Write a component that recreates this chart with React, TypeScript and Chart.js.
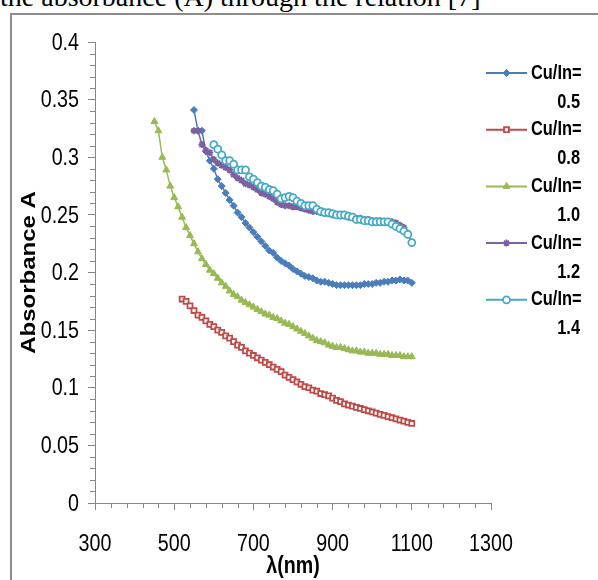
import React, { useEffect, useRef } from "react";
import { Chart, registerables } from "chart.js";
import { drawPoint } from "chart.js/helpers";

Chart.register(...registerables);

// ---------------- DATA ----------------
const wavelengths = [
  450, 460, 470, 480, 490, 500, 510, 520, 530, 540,
  550, 560, 570, 580, 590, 600, 610, 620, 630, 640,
  650, 660, 670, 680, 690, 700, 710, 720, 730, 740,
  750, 760, 770, 780, 790, 800, 810, 820, 830, 840,
  850, 860, 870, 880, 890, 900, 910, 920, 930, 940,
  950, 960, 970, 980, 990, 1000, 1010, 1020, 1030, 1040,
  1050, 1060, 1070, 1080, 1090, 1100,
];

const seriesNames = ["0.5", "0.8", "1.0", "1.2", "1.4"];

const absCu05 = [
  null, null, null, null, null, null, null, null, null, null,
  0.341, 0.323, 0.323, 0.305, 0.297, 0.290, 0.281, 0.275, 0.269, 0.263,
  0.258, 0.252, 0.248, 0.243, 0.239, 0.235, 0.231, 0.227, 0.223, 0.219,
  0.217, 0.213, 0.210, 0.208, 0.206, 0.203, 0.201, 0.199, 0.197, 0.196,
  0.195, 0.193, 0.192, 0.192, 0.191, 0.190, 0.189, 0.189, 0.189, 0.189,
  0.189, 0.189, 0.189, 0.190, 0.190, 0.190, 0.191, 0.191, 0.192, 0.192,
  0.193, 0.193, 0.194, 0.193, 0.193, 0.191,
];

const absCu08 = [
  null, null, null, null, null, null, null, 0.177, 0.175, 0.171,
  0.167, 0.163, 0.161, 0.158, 0.155, 0.153, 0.150, 0.148, 0.145, 0.143,
  0.140, 0.137, 0.135, 0.132, 0.130, 0.128, 0.126, 0.124, 0.122, 0.120,
  0.118, 0.116, 0.114, 0.111, 0.109, 0.107, 0.105, 0.103, 0.101, 0.100,
  0.098, 0.097, 0.095, 0.094, 0.093, 0.091, 0.089, 0.088, 0.086, 0.085,
  0.084, 0.083, 0.082, 0.081, 0.080, 0.079, 0.078, 0.077, 0.076, 0.075,
  0.074, 0.073, 0.072, 0.071, 0.070, 0.069,
];

const absCu10 = [
  0.331, 0.323, 0.300, 0.289, 0.275, 0.265, 0.257, 0.248, 0.239, 0.232,
  0.225, 0.218, 0.212, 0.207, 0.202, 0.199, 0.195, 0.191, 0.188, 0.184,
  0.181, 0.179, 0.176, 0.174, 0.172, 0.170, 0.168, 0.166, 0.164, 0.163,
  0.161, 0.160, 0.158, 0.156, 0.155, 0.153, 0.151, 0.149, 0.147, 0.145,
  0.143, 0.141, 0.140, 0.139, 0.137, 0.136, 0.135, 0.135, 0.134, 0.133,
  0.132, 0.132, 0.131, 0.131, 0.130, 0.130, 0.130, 0.129, 0.129, 0.129,
  0.128, 0.128, 0.128, 0.127, 0.127, 0.127,
];

const absCu12 = [
  null, null, null, null, null, null, null, null, null, null,
  0.323, 0.323, 0.311, 0.306, 0.304, 0.298, 0.295, 0.293, 0.291, 0.289,
  0.285, 0.282, 0.280, 0.277, 0.276, 0.274, 0.272, 0.269, 0.268, 0.266,
  0.264, 0.261, 0.259, 0.258, 0.258, 0.257, 0.257, 0.256, 0.255, 0.254,
  0.253, 0.253, 0.252, 0.252, 0.251, 0.250, 0.250, 0.249, 0.249, 0.248,
  0.248, 0.247, 0.247, 0.246, 0.246, 0.245, 0.245, 0.245, 0.244, 0.244,
  0.244, 0.243, 0.241, 0.239, 0.234, 0.226,
];

const absCu14 = [
  null, null, null, null, null, null, null, null, null, null,
  null, null, null, null, null, 0.311, 0.307, 0.302, 0.297, 0.297,
  0.294, 0.289, 0.289, 0.289, 0.283, 0.281, 0.278, 0.275, 0.274, 0.272,
  0.271, 0.268, 0.264, 0.265, 0.266, 0.265, 0.262, 0.260, 0.258, 0.258,
  0.258, 0.255, 0.253, 0.252, 0.252, 0.251, 0.250, 0.250, 0.250, 0.249,
  0.248, 0.246, 0.246, 0.245, 0.245, 0.244, 0.244, 0.244, 0.244, 0.244,
  0.242, 0.240, 0.238, 0.236, 0.233, 0.226,
];

const seriesValues = [absCu05, absCu08, absCu10, absCu12, absCu14];

const xTitle = "λ(nm)";
const yTitle = "Absorbance A";
const legendPrefix = "Cu/In=";
const xTickMin = 300;
const xTickMax = 1300;
const xTickStep = 200;
const yTickMin = 0;
const yTickMax = 0.4;
const yTickStep = 0.05;

// ---------------- STYLE ----------------
const seriesColors = ["#4A7EBB", "#BE4B48", "#98B954", "#7D60A0", "#46AAC5"];
const seriesPointStyles = ["rectRot", "rect", "triangle", "star", "circle"];
const seriesFilled = [true, false, true, false, false];
const seriesRadius = [3.5, 3.5, 4, 3.5, 3.5];
const AXIS_COLOR = "#868686";
const SANS = '"Liberation Sans", Arial, sans-serif';
const SQUEEZE = 0.82;

const fmtY = (v: number) => String(+Number(v).toFixed(2));

function drawText(
  ctx: CanvasRenderingContext2D,
  text: string,
  x: number,
  y: number,
  font: string,
  align: CanvasTextAlign,
  rotate = false
) {
  ctx.save();
  ctx.translate(x, y);
  if (rotate) {
    ctx.rotate(-Math.PI / 2);
    ctx.scale(1, SQUEEZE);
  } else {
    ctx.scale(SQUEEZE, 1);
  }
  ctx.font = font;
  ctx.fillStyle = "#000";
  ctx.textAlign = align;
  ctx.textBaseline = "middle";
  ctx.fillText(text, 0, 0);
  ctx.restore();
}

const decorPlugin = {
  id: "decor",
  afterDraw(chart: any) {
    const ctx = chart.ctx as CanvasRenderingContext2D;
    const xs = chart.scales.x;
    const ys = chart.scales.y;
    ctx.save();
    // minor ticks
    ctx.strokeStyle = AXIS_COLOR;
    ctx.lineWidth = 1;
    ctx.beginPath();
    for (let v = xTickMin; v <= xTickMax; v += 40) {
      if ((v - xTickMin) % xTickStep === 0) continue;
      const p = Math.round(xs.getPixelForValue(v)) + 0.5;
      ctx.moveTo(p, ys.bottom);
      ctx.lineTo(p, ys.bottom + 5);
    }
    for (let k = 0; k <= 40; k++) {
      if (k % 5 === 0) continue;
      const p = Math.round(ys.getPixelForValue(k / 100)) + 0.5;
      ctx.moveTo(xs.left, p);
      ctx.lineTo(xs.left - 5, p);
    }
    ctx.stroke();

    // tick labels
    const tickFont = "24px " + SANS;
    xs.ticks.forEach((t: any) => {
      drawText(ctx, String(t.value), xs.getPixelForValue(t.value), ys.bottom + 41, tickFont, "center");
    });
    ys.ticks.forEach((t: any) => {
      drawText(ctx, fmtY(t.value), 79 / SQUEEZE * SQUEEZE, ys.getPixelForValue(t.value) + 1, tickFont, "right");
    });

    // axis titles
    drawText(ctx, xTitle, (xs.left + xs.right) / 2, 566, "bold 24px " + SANS, "center");
    drawText(ctx, yTitle, 30, (ys.top + ys.bottom) / 2, "bold 24px " + SANS, "center", true);

    // legend
    chart.data.datasets.forEach((ds: any, i: number) => {
      const y = 73 + i * 56.7;
      ctx.strokeStyle = ds.borderColor;
      ctx.lineWidth = 2;
      ctx.beginPath();
      ctx.moveTo(486, y);
      ctx.lineTo(527, y);
      ctx.stroke();
      ctx.fillStyle = ds.pointBackgroundColor;
      ctx.strokeStyle = ds.pointBorderColor;
      ctx.lineWidth = ds.pointBorderWidth;
      drawPoint(
        ctx,
        { pointStyle: ds.pointStyle, radius: ds.pointRadius, borderWidth: ds.pointBorderWidth, rotation: 0 },
        506.5,
        y
      );
      drawText(ctx, legendPrefix, 531, y, "bold 20px " + SANS, "left");
      drawText(ctx, seriesNames[i], 580, y + 29, "bold 20px " + SANS, "right");
    });
    ctx.restore();
  },
};

export default function App() {
  const canvasRef = useRef<HTMLCanvasElement | null>(null);

  useEffect(() => {
    if (!canvasRef.current) return;
    const datasets = seriesValues.map((vals, i) => ({
      label: legendPrefix + " " + seriesNames[i],
      data: wavelengths
        .map((x, j) => ({ x, y: vals[j] }))
        .filter((p) => p.y !== null),
      borderColor: seriesColors[i],
      backgroundColor: seriesColors[i],
      borderWidth: 1.5,
      pointStyle: seriesPointStyles[i],
      pointRadius: seriesRadius[i],
      pointBorderWidth: seriesFilled[i] ? 1 : 1.8,
      pointBackgroundColor: seriesFilled[i] ? seriesColors[i] : "#ffffff",
      pointBorderColor: seriesColors[i],
      fill: false,
      tension: 0,
      order: 5 - i,
    }));

    const chart = new Chart(canvasRef.current, {
      type: "line",
      data: { datasets: datasets as any },
      options: {
        animation: false,
        responsive: false,
        devicePixelRatio: 1,
        layout: { padding: { left: 0, top: 42, right: 107, bottom: 0 } },
        plugins: { legend: { display: false }, tooltip: { enabled: false } },
        scales: {
          x: {
            type: "linear",
            min: xTickMin,
            max: xTickMax,
            afterFit: (s: any) => {
              s.height = 77;
            },
            ticks: { stepSize: xTickStep, display: false },
            grid: { drawOnChartArea: false, drawTicks: true, tickLength: 7, color: AXIS_COLOR },
            border: { display: true, color: AXIS_COLOR, width: 1 },
          },
          y: {
            type: "linear",
            min: yTickMin,
            max: yTickMax,
            afterFit: (s: any) => {
              s.width = 95;
            },
            ticks: { stepSize: yTickStep, display: false },
            grid: { drawOnChartArea: false, drawTicks: true, tickLength: 7, color: AXIS_COLOR },
            border: { display: true, color: AXIS_COLOR, width: 1 },
          },
        },
      },
      plugins: [decorPlugin],
    } as any);
    return () => chart.destroy();
  }, []);

  return (
    <div style={{ position: "absolute", left: 0, top: 0, width: 598, height: 580, overflow: "hidden", background: "#fff" }}>
      <div
        style={{
          position: "absolute",
          left: 0,
          top: -17,
          fontFamily: '"Liberation Serif", "Times New Roman", serif',
          fontSize: 28,
          lineHeight: "28px",
          whiteSpace: "nowrap",
          color: "#000",
        }}
      >
        the absorbance (A) through the relation [7]
      </div>
      <div
        style={{
          position: "absolute",
          left: 10,
          top: 13,
          width: 700,
          height: 700,
          borderLeft: "2px solid #8c8c8c",
          borderTop: "2px solid #8c8c8c",
        }}
      />
      <canvas ref={canvasRef} width={598} height={580} style={{ position: "absolute", left: 0, top: 0 }} />
    </div>
  );
}
